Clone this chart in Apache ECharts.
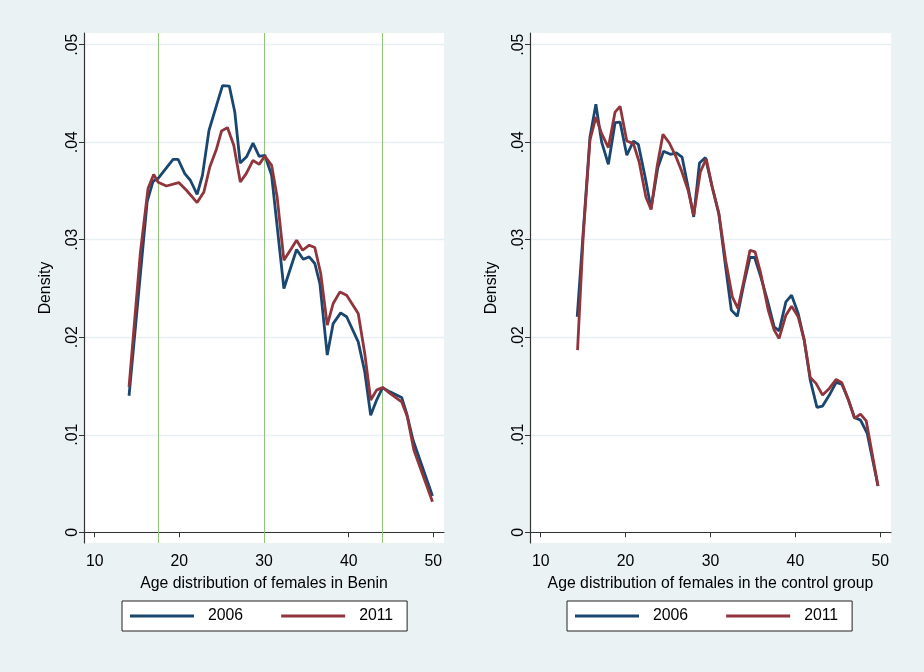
<!DOCTYPE html>
<html>
<head>
<meta charset="utf-8">
<script src="https://cdn.jsdelivr.net/npm/echarts@6/dist/echarts.min.js"></script>
<style>
html,body{margin:0;padding:0;background:#eaf2f3;}
#c{width:924px;height:672px;}
</style>
</head>
<body>
<div id="c"></div>
<script>
// ---- data ----
var seriesNames = ['2006', '2011'];
var xTicks = [10, 20, 30, 40, 50];
var yTicks = [0, 0.01, 0.02, 0.03, 0.04, 0.05];
var cutoffAges = [17.5, 30, 44];
var leftTitle = 'Age distribution of females in Benin';
var rightTitle = 'Age distribution of females in the control group';

var benin2006Age = [14.06,16.2,16.9,17.5,19.26,19.85,20.64,21.3,22.1,22.73,23.5,24.4,25.1,25.9,26.55,27.18,27.94,28.7,29.43,30.1,30.9,32.35,33.85,34.63,35.34,36.0,36.6,37.47,38.17,39.05,39.76,41.13,41.9,42.6,43.3,44.0,44.88,46.26,46.85,47.6,49.9];
var benin2006Den = [0.0140,0.0339,0.0360,0.0363,0.03825,0.03825,0.03678,0.0361,0.03466,0.0366,0.0412,0.0438,0.0458,0.04576,0.0431,0.03787,0.0385,0.0399,0.03855,0.03866,0.0366,0.0250,0.0290,0.0280,0.02824,0.02756,0.0255,0.01817,0.0214,0.0225,0.0221,0.01953,0.01646,0.0120,0.01356,0.01482,0.0144,0.01383,0.0122,0.00946,0.00372];

var benin2011Age = [14.06,15.4,16.3,16.97,17.5,18.47,19.93,20.84,22.1,22.9,23.6,24.4,24.98,25.68,26.43,27.2,27.9,28.7,29.43,30.1,30.9,31.55,32.35,33.85,34.56,35.34,36.0,36.7,37.47,38.17,38.97,39.76,41.13,41.9,42.6,43.3,44.0,44.88,46.26,46.93,47.7,49.9];
var benin2011Den = [0.01492,0.0287,0.03524,0.0367,0.0359,0.03551,0.03586,0.03507,0.03381,0.0349,0.03746,0.03934,0.04115,0.0415,0.03968,0.03592,0.03678,0.03814,0.03773,0.03859,0.03763,0.03439,0.0279,0.02995,0.02892,0.02944,0.0292,0.02654,0.02124,0.02346,0.02465,0.02431,0.02244,0.01834,0.01356,0.01458,0.01485,0.01424,0.01338,0.01184,0.00843,0.00314];

var control2006Age = [14.3,15.8,16.5,17.18,17.97,18.76,19.35,20.14,20.92,21.5,22.3,23.0,23.8,24.47,25.27,25.98,26.65,27.36,28.02,28.7,29.4,30.2,30.98,31.78,32.45,33.16,33.94,34.65,35.2,35.92,36.7,37.5,38.08,38.88,39.55,40.33,41.04,41.75,42.54,43.2,44.0,44.8,45.47,46.25,46.96,47.67,48.46,49.73];
var control2006Den = [0.0221,0.0405,0.04389,0.0400,0.03774,0.0420,0.04207,0.03866,0.04012,0.03978,0.03643,0.0332,0.0374,0.03907,0.03876,0.0389,0.03848,0.03541,0.03234,0.03787,0.03842,0.03541,0.03268,0.02721,0.02278,0.02216,0.02551,0.02818,0.02818,0.02619,0.0238,0.02107,0.02066,0.02363,0.02431,0.02244,0.0197,0.0156,0.0128,0.01294,0.01407,0.01537,0.01519,0.01356,0.01178,0.0115,0.01014,0.00474];

var control2011Age = [14.34,15.0,15.8,16.5,17.18,17.97,18.76,19.35,20.14,20.92,21.6,22.39,23.0,23.7,24.4,25.15,25.86,26.57,27.36,28.02,28.8,29.5,30.2,30.98,31.78,32.57,33.23,33.94,34.65,35.25,35.92,36.8,37.5,38.08,38.88,39.55,40.33,41.04,41.75,42.43,43.2,44.0,44.8,45.47,46.25,46.96,47.67,48.34,49.73];
var control2011Den = [0.01868,0.03029,0.0402,0.04258,0.04088,0.03945,0.04309,0.04368,0.04012,0.03986,0.03797,0.03439,0.0331,0.03746,0.04081,0.03992,0.03866,0.03712,0.03507,0.03251,0.03695,0.0383,0.03541,0.0327,0.0279,0.02414,0.02295,0.02585,0.02892,0.02875,0.02654,0.02278,0.02073,0.01988,0.02226,0.02319,0.02209,0.0197,0.01588,0.01527,0.01407,0.01475,0.01568,0.01533,0.01356,0.01168,0.01212,0.01143,0.00474];

// ---- build ----
function zip(a, b) { return a.map(function (v, i) { return [v, b[i]]; }); }
var NAVY = '#1a476f', MAROON = '#90353b', BG = '#eaf2f3';
var FONT = 'Liberation Sans, Arial, sans-serif';
var FS = 15.8;

function xAxisCfg(idx, title) {
  return {
    type: 'value', gridIndex: idx, min: 8.74, max: 51.26,
    name: title, nameLocation: 'middle', nameGap: 33,
    nameTextStyle: { fontFamily: FONT, fontSize: FS, color: '#000' },
    axisLine: { show: true, lineStyle: { color: '#333', width: 1.2 } },
    axisTick: { show: true, length: 5, customValues: xTicks, lineStyle: { color: '#333' } },
    axisLabel: { customValues: xTicks, margin: 11, fontFamily: FONT, fontSize: FS, color: '#000' },
    splitLine: { show: false }
  };
}
function yAxisCfg(idx) {
  return {
    type: 'value', gridIndex: idx, min: -0.0011, max: 0.0512,
    name: 'Density', nameLocation: 'middle', nameGap: 30, nameRotate: 90,
    nameTextStyle: { fontFamily: FONT, fontSize: FS, color: '#000' },
    axisLine: { show: true, lineStyle: { color: '#333', width: 1.2 } },
    axisTick: { show: true, length: 5, customValues: yTicks, lineStyle: { color: '#333' } },
    axisLabel: {
      customValues: yTicks, rotate: 90, margin: 3, fontFamily: FONT, fontSize: FS, color: '#000',
      formatter: function (v) { return v === 0 ? '0' : String(+v.toFixed(3)).replace(/^0/, ''); }
    },
    splitLine: { show: true, lineStyle: { color: '#e6eff1', width: 1.4 } }
  };
}
function lineSeries(name, color, idx, data, extra) {
  var s = {
    name: name, type: 'line', xAxisIndex: idx, yAxisIndex: idx,
    data: data, symbol: 'none', smooth: false, silent: true,
    lineStyle: { color: color, width: 2.8 }, itemStyle: { color: color },
    z: name === '2011' ? 4 : 3
  };
  if (extra) s.markLine = extra;
  return s;
}
function legendCfg(left) {
  return {
    left: left, top: 601, orient: 'horizontal',
    data: seriesNames,
    icon: 'rect',
    itemWidth: 64, itemHeight: 3, itemGap: 38,
    padding: [7, 14, 7, 8],
    backgroundColor: '#fff', borderColor: '#222', borderWidth: 1, borderRadius: 0,
    textStyle: { fontFamily: FONT, fontSize: FS, color: '#000', padding: [0, 0, 0, 9] },
    selectedMode: false
  };
}

var chart = echarts.init(document.getElementById('c'), null, { renderer: 'canvas' });
chart.setOption({
  backgroundColor: BG,
  animation: false,
  grid: [
    { left: 84, right: 480, top: 33, bottom: 129, show: true, backgroundColor: '#fff', borderWidth: 0 },
    { left: 530, right: 33, top: 33, bottom: 129, show: true, backgroundColor: '#fff', borderWidth: 0 }
  ],
  xAxis: [xAxisCfg(0, leftTitle), xAxisCfg(1, rightTitle)],
  yAxis: [yAxisCfg(0), yAxisCfg(1)],
  legend: [legendCfg(122), legendCfg(567)],
  series: [
    lineSeries('2006', NAVY, 0, zip(benin2006Age, benin2006Den), {
      silent: true, symbol: ['none', 'none'], label: { show: false },
      lineStyle: { color: '#8fc47a', width: 1, type: 'solid' },
      data: cutoffAges.map(function (a) { return { xAxis: a }; }),
      z: 1
    }),
    lineSeries('2011', MAROON, 0, zip(benin2011Age, benin2011Den)),
    lineSeries('2006', NAVY, 1, zip(control2006Age, control2006Den)),
    lineSeries('2011', MAROON, 1, zip(control2011Age, control2011Den))
  ]
});
</script>
</body>
</html>
